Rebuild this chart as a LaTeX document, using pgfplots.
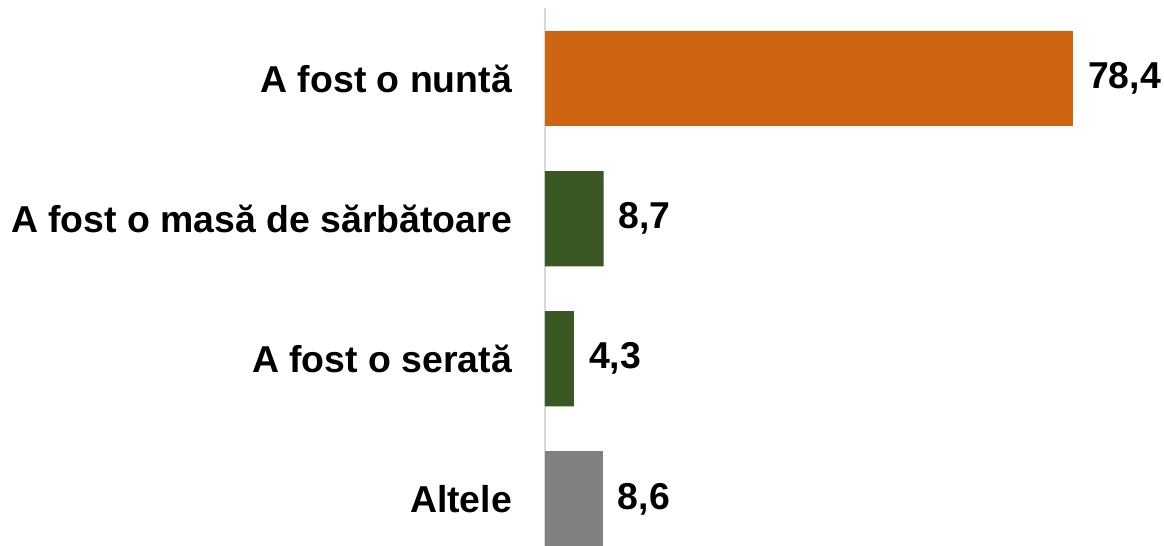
\documentclass[border=0pt]{standalone}
\usepackage{fontspec}
\setmainfont{Liberation Sans}
\usepackage{pgfplots}
\pgfplotsset{compat=1.18}
\definecolor{barorange}{RGB}{205,101,18}
\definecolor{bargreen}{RGB}{58,87,36}
\definecolor{bargray}{RGB}{128,128,128}
\begin{document}
\begin{tikzpicture}
\begin{axis}[
  at={(272.5pt,0pt)}, anchor=south west,
  scale only axis,
  width=309.5pt, height=269pt,
  xbar,
  bar width=0.68,
  bar shift=0pt,
  y dir=reverse,
  xmin=0, xmax=91.9,
  ymin=-0.504, ymax=3.336,
  ytick={0,1,2,3},
  yticklabels={A fost o nuntă, A fost o masă de sărbătoare, A fost o serată, Altele},
  yticklabel style={font=\fontsize{18.7}{22}\selectfont\bfseries, xshift=-13pt},
  major tick length=0pt,
  axis x line=none,
  axis y line*=left,
  y axis line style={draw=black!15, line width=0.8pt},
  xtick=\empty,
  nodes near coords,
  nodes near coords style={font=\fontsize{18.7}{22}\selectfont\bfseries, anchor=west, xshift=4pt,
    /pgf/number format/.cd, assume math mode=true, use comma, fixed, fixed zerofill, precision=1},
  point meta=explicit,
  clip=false,
]
\addplot[fill=barorange, draw=none] coordinates {(78.4,0) [78.4]};
\addplot[fill=bargreen, draw=none] coordinates {(8.7,1) [8.7] (4.3,2) [4.3]};
\addplot[fill=bargray, draw=none] coordinates {(8.6,3) [8.6]};
\end{axis}
\pgfresetboundingbox
\path[use as bounding box] (0,0) rectangle (582pt,273pt);
\end{tikzpicture}
\end{document}
